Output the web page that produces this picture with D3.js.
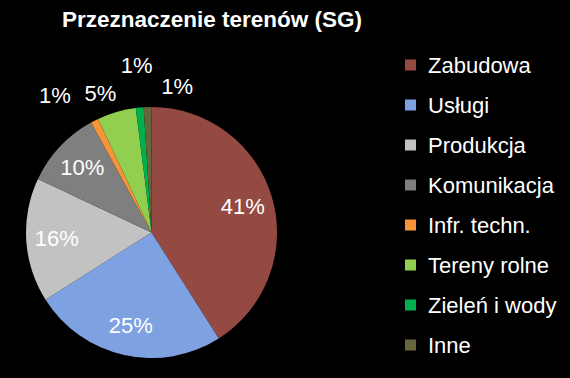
<!DOCTYPE html>
<html><head><meta charset="utf-8">
<script src="https://cdn.jsdelivr.net/npm/d3@7"></script>
<style>html,body{margin:0;padding:0;background:#000;}svg{display:block;}</style>
</head><body>
<svg id="chart" width="570" height="378"></svg>
<script>
const title = "Przeznaczenie terenów (SG)";
const categories = ["Zabudowa","Usługi","Produkcja","Komunikacja","Infr. techn.","Tereny rolne","Zieleń i wody","Inne"];
const values = [41,25,16,10,1,5,1,1];
const colors = ["#944A43","#7EA1E1","#C2C2C2","#7F7F7F","#F79439","#92CF50","#00B04F","#66653C"];

const W = 570, H = 378;
const cx = 151.5, cy = 232.5, R = 125.5;
const font = "'Liberation Sans', Arial, sans-serif";
const svg = d3.select("#chart");
svg.append("rect").attr("width",W).attr("height",H).attr("fill","#000");

svg.append("text").attr("x",62).attr("y",26.5).attr("fill","#fff")
  .attr("font-family",font).attr("font-weight","bold").attr("font-size",22.5).text(title);

const data = categories.map((c,i)=>({name:c,value:values[i],color:colors[i]}));
const total = d3.sum(values);
const pie = d3.pie().value(d=>d.value).sort(null);
const arcs = pie(data);
const arc = d3.arc().innerRadius(0).outerRadius(R);
const g = svg.append("g").attr("transform",`translate(${cx},${cy})`);
g.selectAll("path").data(arcs).join("path").attr("d",arc).attr("fill",d=>d.data.color);

// labels
const pct = d=>Math.round(d.data.value/total*100)+"%";
const outerSet = arcs.filter(d=>d.data.value/total<0.08);
const innerSet = arcs.filter(d=>d.data.value/total>=0.08);
innerSet.forEach(d=>{
  const a = (d.startAngle+d.endAngle)/2;
  d.lx = Math.sin(a)*95; d.ly = -Math.cos(a)*95;
});
// spread outer labels with a minimum angular gap, alternating radius
const mids = outerSet.map(d=>{let a=(d.startAngle+d.endAngle)/2; if(a>Math.PI) a-=2*Math.PI; return a;});
const gap = 15*Math.PI/180;
const meanMid = d3.mean(mids);
outerSet.forEach((d,i)=>{
  const a = meanMid + (i-(outerSet.length-1)/2)*gap;
  const r = i%2===0 ? 168 : 149;
  d.lx = Math.sin(a)*r; d.ly = -Math.cos(a)*r;
});
g.selectAll("text.lbl").data(innerSet.concat(outerSet)).join("text").attr("class","lbl")
  .attr("x",d=>d.lx).attr("y",d=>d.ly).attr("dy","0.36em")
  .attr("text-anchor","middle").attr("fill","#fff")
  .attr("font-family",font).attr("font-size",22).text(pct);

// legend
const lg = svg.append("g");
const rowY = d3.scalePoint().domain(categories).range([65,345]);
categories.forEach((c,i)=>{
  const y = rowY(c);
  lg.append("rect").attr("x",405).attr("y",y-5.5).attr("width",11).attr("height",11).attr("fill",colors[i]);
  lg.append("text").attr("x",428).attr("y",y+8).attr("fill","#fff")
    .attr("font-family",font).attr("font-size",22).text(c);
});
</script>
</body></html>
